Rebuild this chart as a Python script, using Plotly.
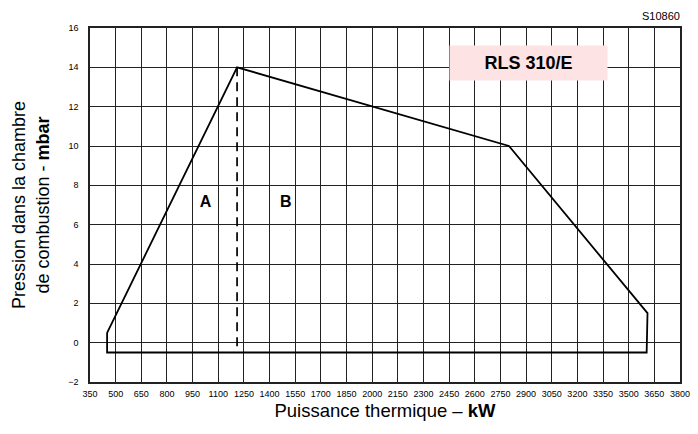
import plotly.graph_objects as go

# Working field envelope (kW, mbar)
env_x = [450, 1210, 2800, 3610, 3605, 450, 450]
env_y = [0.5, 14, 10, 1.5, -0.5, -0.5, 0.5]

# Dashed split between zones A and B
split_x = [1210, 1210]
split_y = [14, -0.4]

x_ticks = list(range(350, 3801, 150))
y_ticks = list(range(-2, 17, 2))

zone_labels = ["A", "B"]
zone_x = [1025, 1495]
zone_y = [7.1, 7.1]

font = "Liberation Sans, Arial, sans-serif"

fig = go.Figure()
fig.add_trace(go.Scatter(x=env_x, y=env_y, mode="lines",
                         line=dict(color="black", width=1.8), hoverinfo="skip"))
fig.add_trace(go.Scatter(x=split_x, y=split_y, mode="lines",
                         line=dict(color="black", width=1.7, dash="9px,6px"), hoverinfo="skip"))
fig.add_trace(go.Scatter(x=zone_x, y=zone_y, mode="text", text=zone_labels,
                         textfont=dict(family=font, size=16, color="black"),
                         texttemplate="<b>%{text}</b>", hoverinfo="skip"))

fig.update_layout(
    width=690, height=426,
    margin=dict(l=82, r=18, t=20, b=52, autoexpand=False),
    paper_bgcolor="white", plot_bgcolor="white",
    showlegend=False,
    font=dict(family=font, color="black"),
    xaxis=dict(range=[350, 3800], tickmode="array", tickvals=x_ticks,
               ticktext=[str(v) for v in x_ticks], automargin=False,
               tickfont=dict(size=9, family=font), showgrid=True,
               gridcolor="#222", gridwidth=1.4, zeroline=False,
               showline=True, linecolor="#222", linewidth=1.5, mirror=True,
               ticks="outside", ticklen=2, tickcolor="white",
               title=dict(text="Puissance thermique – <b>kW</b>",
                          font=dict(size=18.5, family=font), standoff=7)),
    yaxis=dict(range=[-2, 16], tickmode="array", tickvals=y_ticks,
               tickfont=dict(size=9, family=font), showgrid=True, automargin=False,
               gridcolor="#222", gridwidth=1.4, zeroline=False,
               showline=True, linecolor="#222", linewidth=1.5, mirror=True,
               ticks="outside", ticklen=8, tickcolor="white",
               title=dict(text="Pression dans la chambre<br>de combustion - <b>mbar</b>",
                          font=dict(size=18, family=font), standoff=14)),
)

fig.add_annotation(x=2915, y=14.2, xref="x", yref="y",
                   text="<b>RLS 310/E</b>", showarrow=False,
                   font=dict(size=18, family=font, color="black"),
                   bgcolor="#fde3e3", width=155, height=32)
fig.add_annotation(x=1, y=1, xref="paper", yref="paper",
                   xanchor="right", yanchor="bottom", yshift=4, xshift=2,
                   text="S10860", showarrow=False,
                   font=dict(size=11, family=font, color="black"))

fig.write_html("out.html")
